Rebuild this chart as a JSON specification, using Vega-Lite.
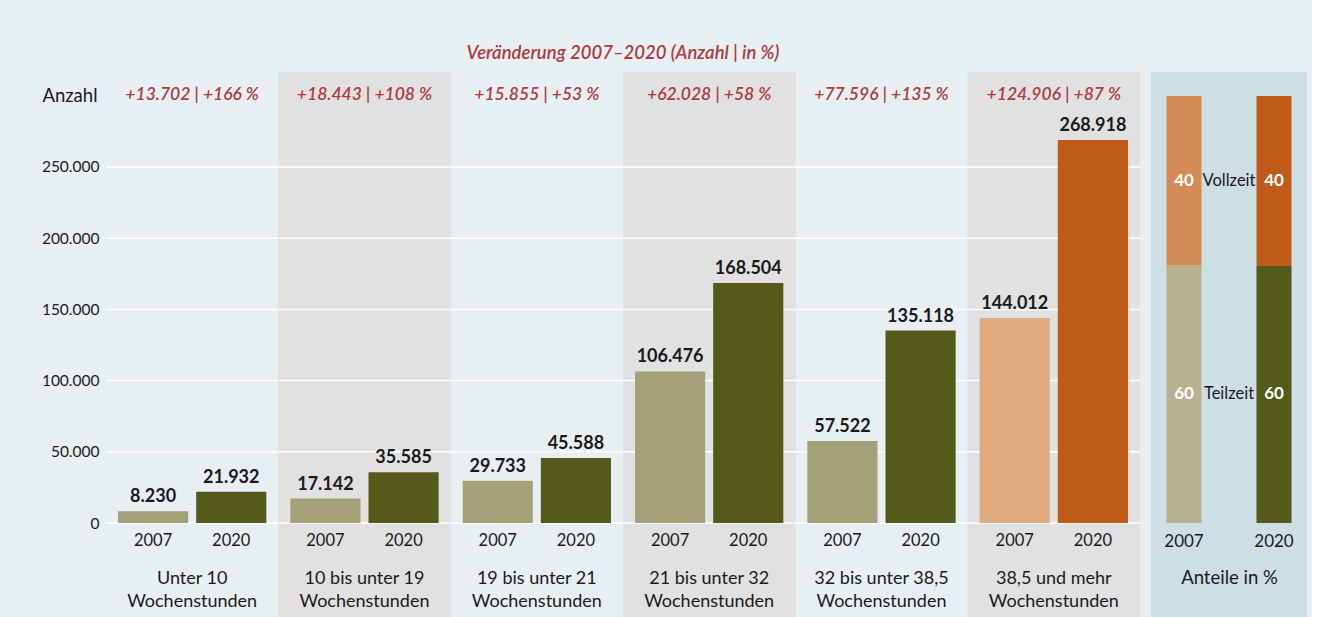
{
  "$schema": "https://vega.github.io/schema/vega-lite/v6.json",
  "background": "#e7eff2",
  "autosize": {"type": "pad"},
  "padding": {"left": 41, "top": 43, "right": 5, "bottom": 0},
  "bounds": "flush",
  "spacing": 11,
  "resolve": {"scale": {"color": "independent"}},
  "config": {
    "font": "Lato",
    "view": {"stroke": null},
    "locale": {"number": {"decimal": ",", "thousands": ".", "grouping": [3], "currency": ["", " €"]}}
  },
  "datasets": {
    "main": [
      {"gruppe": "Unter 10 Wochenstunden", "jahr": "2007", "anzahl": 8230, "kategorie": "Teilzeit 2007"},
      {"gruppe": "Unter 10 Wochenstunden", "jahr": "2020", "anzahl": 21932, "kategorie": "Teilzeit 2020"},
      {"gruppe": "10 bis unter 19 Wochenstunden", "jahr": "2007", "anzahl": 17142, "kategorie": "Teilzeit 2007"},
      {"gruppe": "10 bis unter 19 Wochenstunden", "jahr": "2020", "anzahl": 35585, "kategorie": "Teilzeit 2020"},
      {"gruppe": "19 bis unter 21 Wochenstunden", "jahr": "2007", "anzahl": 29733, "kategorie": "Teilzeit 2007"},
      {"gruppe": "19 bis unter 21 Wochenstunden", "jahr": "2020", "anzahl": 45588, "kategorie": "Teilzeit 2020"},
      {"gruppe": "21 bis unter 32 Wochenstunden", "jahr": "2007", "anzahl": 106476, "kategorie": "Teilzeit 2007"},
      {"gruppe": "21 bis unter 32 Wochenstunden", "jahr": "2020", "anzahl": 168504, "kategorie": "Teilzeit 2020"},
      {"gruppe": "32 bis unter 38,5 Wochenstunden", "jahr": "2007", "anzahl": 57522, "kategorie": "Teilzeit 2007"},
      {"gruppe": "32 bis unter 38,5 Wochenstunden", "jahr": "2020", "anzahl": 135118, "kategorie": "Teilzeit 2020"},
      {"gruppe": "38,5 und mehr Wochenstunden", "jahr": "2007", "anzahl": 144012, "kategorie": "Vollzeit 2007"},
      {"gruppe": "38,5 und mehr Wochenstunden", "jahr": "2020", "anzahl": 268918, "kategorie": "Vollzeit 2020"}
    ],
    "veraenderung": [
      {"gruppe": "Unter 10 Wochenstunden", "text": "+13.702 | +166 %"},
      {"gruppe": "10 bis unter 19 Wochenstunden", "text": "+18.443 | +108 %"},
      {"gruppe": "19 bis unter 21 Wochenstunden", "text": "+15.855 | +53 %"},
      {"gruppe": "21 bis unter 32 Wochenstunden", "text": "+62.028 | +58 %"},
      {"gruppe": "32 bis unter 38,5 Wochenstunden", "text": "+77.596 | +135 %"},
      {"gruppe": "38,5 und mehr Wochenstunden", "text": "+124.906 | +87 %"}
    ],
    "raster": [{"v": 0}, {"v": 50000}, {"v": 100000}, {"v": 150000}, {"v": 200000}, {"v": 250000}],
    "anteile": [
      {"jahr": "2007", "typ": "Teilzeit", "anteil": 60.3, "kategorie": "Teilzeit 2007"},
      {"jahr": "2007", "typ": "Vollzeit", "anteil": 39.7, "kategorie": "Vollzeit 2007"},
      {"jahr": "2020", "typ": "Teilzeit", "anteil": 60.2, "kategorie": "Teilzeit 2020"},
      {"jahr": "2020", "typ": "Vollzeit", "anteil": 39.8, "kategorie": "Vollzeit 2020"}
    ]
  },
  "hconcat": [
    {
      "width": 1034,
      "height": 451,
      "title": {"text": "Veränderung 2007–2020 (Anzahl | in %)", "anchor": "middle", "offset": 10, "fontSize": 18.5, "fontStyle": "italic", "fontWeight": 600, "color": "#b03a3f"},
      "layer": [
        {
          "data": {"name": "main"},
          "transform": [{"filter": {"field": "gruppe", "oneOf": ["10 bis unter 19 Wochenstunden", "21 bis unter 32 Wochenstunden", "38,5 und mehr Wochenstunden"]}}],
          "mark": {"type": "rect", "color": "#e1e1e1"},
          "encoding": {
            "x": {
              "field": "gruppe", "type": "nominal",
              "scale": {"domain": ["Unter 10 Wochenstunden", "10 bis unter 19 Wochenstunden", "19 bis unter 21 Wochenstunden", "21 bis unter 32 Wochenstunden", "32 bis unter 38,5 Wochenstunden", "38,5 und mehr Wochenstunden"], "paddingInner": 0, "paddingOuter": 0},
              "axis": {"title": null, "zindex": 1, "domain": false, "ticks": false, "labelAngle": 0, "labelPadding": 46, "labelFontSize": 18, "labelLineHeight": 23, "labelColor": "#1a1a1a", "labelExpr": "[replace(datum.label, ' Wochenstunden', ''), 'Wochenstunden']"}
            },
            "y": {
              "datum": 316713, "type": "quantitative",
              "scale": {"domain": [0, 316713], "nice": false, "zero": false},
              "axis": {"values": [0, 50000, 100000, 150000, 200000, 250000], "format": ",.0f", "grid": false, "domain": false, "ticks": false, "labelPadding": 7, "labelFontSize": 15.5, "labelColor": "#1a1a1a", "title": "Anzahl", "titleAngle": 0, "titleAlign": "right", "titleBaseline": "middle", "titleX": -9, "titleY": 23, "titleFontSize": 18.5, "titleFontWeight": "normal", "titleColor": "#1a1a1a"}
            },
            "y2": {"datum": -67000}
          }
        },
        {
          "data": {"name": "raster"},
          "mark": {"type": "rule", "color": "#ffffff", "strokeWidth": 1.5},
          "encoding": {"y": {"field": "v", "type": "quantitative", "title": "Anzahl"}}
        },
        {
          "data": {"name": "main"},
          "mark": {"type": "bar"},
          "encoding": {
            "x": {"field": "gruppe", "type": "nominal", "title": null},
            "xOffset": {"field": "jahr", "type": "nominal", "scale": {"paddingInner": 0.1026, "paddingOuter": 0.1538}},
            "y": {"field": "anzahl", "type": "quantitative", "title": "Anzahl"},
            "color": {"field": "kategorie", "type": "nominal", "legend": null, "scale": {"domain": ["Teilzeit 2007", "Teilzeit 2020", "Vollzeit 2007", "Vollzeit 2020"], "range": ["#a3a178", "#545a1a", "#dfab82", "#bd5b17"]}}
          }
        },
        {
          "data": {"name": "main"},
          "mark": {"type": "text", "baseline": "bottom", "dy": -5, "fontSize": 18, "fontWeight": "bold", "color": "#1a1a1a"},
          "encoding": {
            "x": {"field": "gruppe", "type": "nominal", "title": null},
            "xOffset": {"field": "jahr", "type": "nominal"},
            "y": {"field": "anzahl", "type": "quantitative", "title": "Anzahl"},
            "text": {"field": "anzahl", "type": "quantitative", "format": ",.0f"}
          }
        },
        {
          "data": {"name": "main"},
          "mark": {"type": "text", "baseline": "middle", "dy": 18, "fontSize": 16.5, "color": "#1a1a1a"},
          "encoding": {
            "x": {"field": "gruppe", "type": "nominal", "title": null},
            "xOffset": {"field": "jahr", "type": "nominal"},
            "y": {"datum": 0},
            "text": {"field": "jahr", "type": "nominal"}
          }
        },
        {
          "data": {"name": "veraenderung"},
          "mark": {"type": "text", "baseline": "middle", "fontSize": 17.5, "fontStyle": "italic", "fontWeight": 600, "color": "#b03a3f"},
          "encoding": {
            "x": {"field": "gruppe", "type": "nominal", "title": null},
            "y": {"datum": 300500},
            "text": {"field": "text", "type": "nominal"}
          }
        }
      ]
    },
    {
      "width": 156,
      "height": 451,
      "layer": [
        {
          "data": {"values": [{}]},
          "mark": {"type": "rect", "color": "#cddfe5"},
          "encoding": {
            "y": {"datum": 105.62, "type": "quantitative", "scale": {"domain": [0, 105.62], "nice": false, "zero": false}, "axis": null},
            "y2": {"datum": -23}
          }
        },
        {
          "data": {"name": "anteile"},
          "mark": {"type": "bar"},
          "encoding": {
            "x": {"field": "jahr", "type": "nominal", "scale": {"domain": ["2007", "2020"], "paddingInner": 0.611, "paddingOuter": 0.172},
                  "axis": {"title": "Anteile in %", "zindex": 1, "domain": false, "ticks": false, "labelAngle": 0, "labelPadding": 10, "labelFontSize": 17, "labelColor": "#1a1a1a", "titlePadding": 19, "titleFontSize": 18.5, "titleFontWeight": "normal", "titleColor": "#1a1a1a"}},
            "y": {"field": "anteil", "type": "quantitative", "stack": "zero"},
            "order": {"field": "typ", "sort": "ascending"},
            "color": {"field": "kategorie", "type": "nominal", "legend": null, "scale": {"domain": ["Teilzeit 2007", "Vollzeit 2007", "Teilzeit 2020", "Vollzeit 2020"], "range": ["#b6b28f", "#d48a54", "#545a1a", "#bd5b17"]}}
          }
        },
        {
          "data": {"name": "anteile"},
          "transform": [
            {"stack": "anteil", "groupby": ["jahr"], "sort": [{"field": "typ", "order": "ascending"}], "as": ["a0", "a1"]},
            {"calculate": "(datum.a0 + datum.a1) / 2", "as": "mitte"}
          ],
          "mark": {"type": "text", "baseline": "middle", "fontSize": 17, "fontWeight": "bold", "color": "#ffffff"},
          "encoding": {
            "x": {"field": "jahr", "type": "nominal", "title": "Anteile in %"},
            "y": {"field": "mitte", "type": "quantitative"},
            "text": {"field": "anteil", "type": "quantitative", "format": ".0f"}
          }
        },
        {
          "data": {"name": "anteile"},
          "transform": [
            {"stack": "anteil", "groupby": ["jahr"], "sort": [{"field": "typ", "order": "ascending"}], "as": ["a0", "a1"]},
            {"calculate": "(datum.a0 + datum.a1) / 2", "as": "mitte"},
            {"filter": "datum.jahr == '2007'"}
          ],
          "mark": {"type": "text", "baseline": "middle", "align": "center", "dx": 45, "fontSize": 16.5, "color": "#1a1a1a"},
          "encoding": {
            "x": {"field": "jahr", "type": "nominal", "title": "Anteile in %"},
            "y": {"field": "mitte", "type": "quantitative"},
            "text": {"field": "typ", "type": "nominal"}
          }
        }
      ]
    }
  ]
}
